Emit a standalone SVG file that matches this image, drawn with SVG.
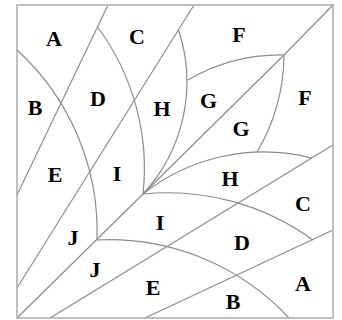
<svg xmlns="http://www.w3.org/2000/svg" width="342" height="320" viewBox="0 0 342 320">
<style>
.ln{fill:none;stroke:#8c8c8c;stroke-width:1.2}
.bd{fill:none;stroke:#b0b0b0;stroke-width:1.6}
.lb{font-family:"Liberation Serif","Times New Roman",serif;font-weight:bold;font-size:22px;fill:#000;text-anchor:middle}
</style>
<rect width="342" height="320" fill="#fff"/>
<g id="lines">
<line class="ln" x1="108" y1="5" x2="17" y2="195"/>
<line class="ln" x1="194" y1="5" x2="17" y2="288"/>
<line class="ln" x1="333" y1="5" x2="284" y2="55"/>
<line class="ln" x1="284" y1="55" x2="143" y2="194"/>
<line class="ln" x1="17" y1="318" x2="143" y2="194"/>
<line class="ln" x1="50" y1="318" x2="333" y2="145"/>
<line class="ln" x1="145" y1="318" x2="333" y2="230"/>
</g>
<g id="curves">
<path class="ln" d="M97.5,27 A237,237 0 0 1 143,194"/>
<path class="ln" d="M17,50 A246,246 0 0 1 97,240"/>
<path class="ln" d="M178.5,30 A165,165 0 0 1 143,194"/>
<path class="ln" d="M188,80 A184.5,184.5 0 0 1 284,55"/>
<path class="ln" d="M284,55 A193.5,193.5 0 0 1 257,152"/>
<path class="ln" d="M143,194 A195,195 0 0 1 312,158"/>
<path class="ln" d="M143,194 A247,247 0 0 1 313,240"/>
<path class="ln" d="M97,240 A246,246 0 0 1 289,318"/>
</g>
<rect id="border" class="bd" x="17" y="5" width="316" height="313"/>
<g id="labels">
<text class="lb" x="54" y="46">A</text>
<text class="lb" x="137" y="44">C</text>
<text class="lb" x="239" y="42">F</text>
<text class="lb" x="35" y="115">B</text>
<text class="lb" x="98" y="106">D</text>
<text class="lb" x="162" y="116">H</text>
<text class="lb" x="208.5" y="108">G</text>
<text class="lb" x="305" y="105">F</text>
<text class="lb" x="241" y="136">G</text>
<text class="lb" x="55" y="182">E</text>
<text class="lb" x="117" y="181">I</text>
<text class="lb" x="230" y="186">H</text>
<text class="lb" x="303" y="211">C</text>
<text class="lb" x="160" y="230">I</text>
<text class="lb" x="73" y="245">J</text>
<text class="lb" x="242" y="250">D</text>
<text class="lb" x="95" y="277">J</text>
<text class="lb" x="153" y="295">E</text>
<text class="lb" x="303" y="291">A</text>
<text class="lb" x="233" y="309">B</text>
</g>
</svg>
